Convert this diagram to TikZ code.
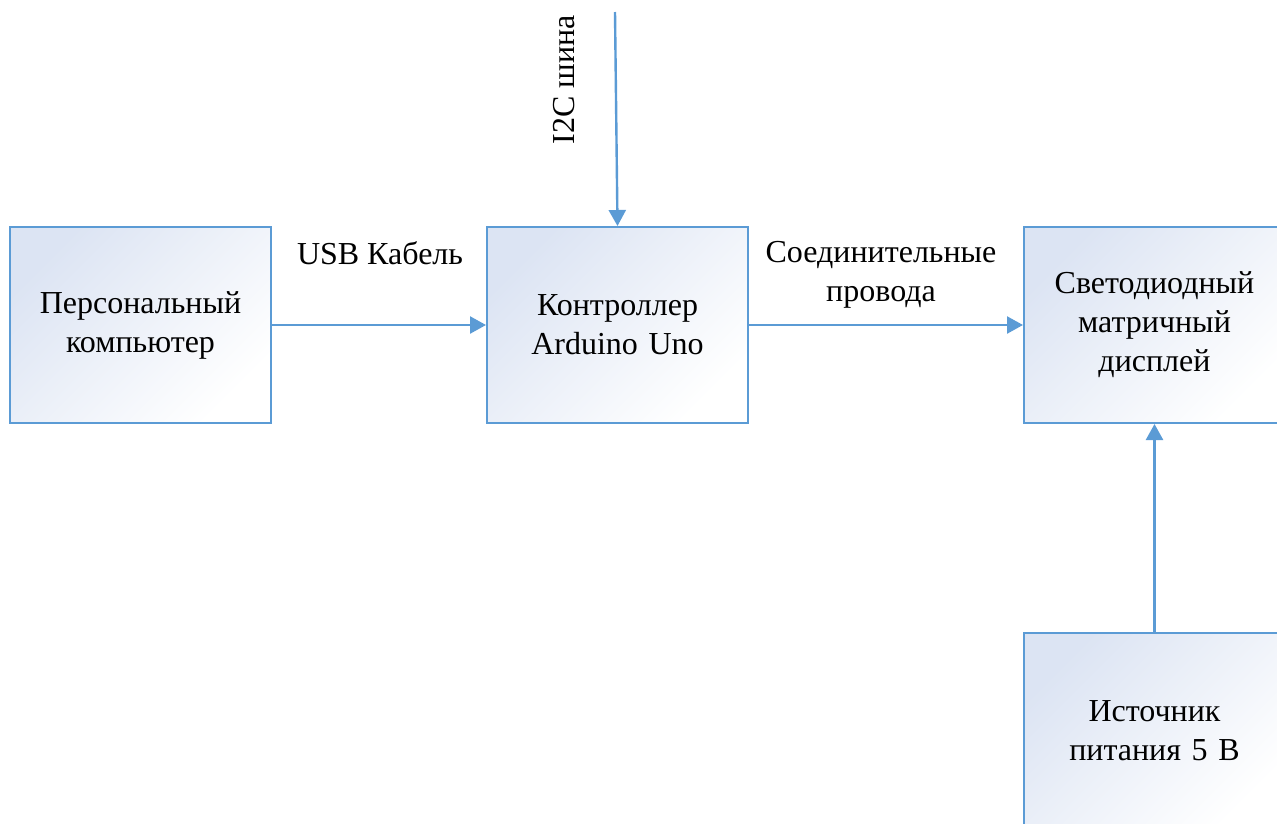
\documentclass[tikz,border=0pt]{standalone}
\usepackage{fontspec}
\setmainfont{Liberation Serif}
\usetikzlibrary{arrows.meta}
\definecolor{linkblue}{RGB}{91,155,213}
\definecolor{boxshade}{RGB}{220,228,243}
\begin{document}
\begin{tikzpicture}[x=1pt,y=-1pt]
\tikzstyle{block}=[draw=linkblue,line width=2pt,minimum width=261pt,minimum height=196pt,
  top color=boxshade,bottom color=white,shading angle=45,text width=250pt,align=center,
  font=\fontsize{32}{39}\selectfont\rmfamily]
\tikzstyle{tag}=[font=\fontsize{32}{39}\selectfont\rmfamily,align=center]
\tikzstyle{link}=[draw=linkblue,line width=2.4pt,-{Triangle[length=16pt,width=17pt]}]
\useasboundingbox (0,0) rectangle (1277,823);
\clip (0,0) rectangle (1277,823);
\node[block] (pc) at (140.5,325) {Персональный\\компьютер};
\node[block] (ctrl) at (617.5,325) {Контроллер\\Arduino Uno};
\node[block] (disp) at (1154.5,325) {Светодиодный\\матричный\\дисплей};
\node[block] (psu) at (1154.5,731) {Источник\\питания 5 В};
\coordinate (bus) at (615,12);
% connections
\draw[link] (pc) -- (ctrl);
\draw[link] (ctrl) -- (disp);
\draw[link] (bus) -- (ctrl.north);
\draw[link] (psu) -- (disp);
% labels
\node[tag] (usb) at (380,253) {USB Кабель};
\node[tag] (wires) at (881,275) {Соединительные\\провода};
\node[tag,rotate=90] (i2c) at (564,80) {I2C шина};
\end{tikzpicture}
\end{document}
